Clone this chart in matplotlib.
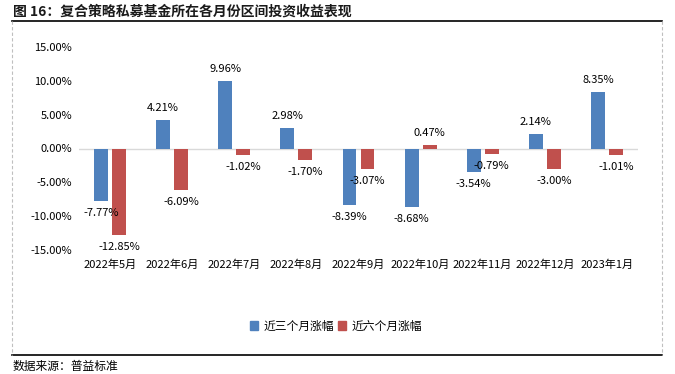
import matplotlib
matplotlib.use("Agg")
import matplotlib.pyplot as plt
from matplotlib.lines import Line2D
from matplotlib.patches import Patch
import numpy as np

plt.rcParams['font.family'] = ['Noto Sans CJK SC', 'DejaVu Sans']
plt.rcParams['axes.unicode_minus'] = False

categories = ["2022年5月", "2022年6月", "2022年7月", "2022年8月", "2022年9月",
              "2022年10月", "2022年11月", "2022年12月", "2023年1月"]
three_month = [-7.77, 4.21, 9.96, 2.98, -8.39, -8.68, -3.54, 2.14, 8.35]
six_month = [-12.85, -6.09, -1.02, -1.70, -3.07, 0.47, -0.79, -3.00, -1.01]
series_names = ["近三个月涨幅", "近六个月涨幅"]
yticks = [-15, -10, -5, 0, 5, 10, 15]

blue = "#4F81BD"
red = "#C0504D"

W, H = 675, 374
fig = plt.figure(figsize=(W / 100, H / 100), dpi=100)

ax = fig.add_axes([79 / W, 1 - 250 / H, (638 - 79) / W, (250 - 47) / H])
x = np.arange(len(categories))
bw = 0.225
off = 0.145
ax.bar(x - off, three_month, bw, color=blue, zorder=3)
ax.bar(x + off, six_month, bw, color=red, zorder=3)
ax.axhline(0, color="#D9D9D9", lw=1.0, zorder=2)
ax.set_xlim(-0.5, len(categories) - 0.5)
ax.set_ylim(-15, 15)
ax.set_yticks(yticks)
ax.set_yticklabels([f"{v:.2f}%" for v in yticks], fontsize=8)
ax.set_xticks(x)
ax.set_xticklabels(categories, fontsize=8)
ax.tick_params(axis='both', length=0)
ax.tick_params(axis='y', pad=5)
ax.tick_params(axis='x', pad=7)
for s in ax.spines.values():
    s.set_visible(False)

for xi, v in zip(x - off, three_month):
    ax.annotate(f"{v:.2f}%", (xi, v), xytext=(0, 5 if v >= 0 else -5),
                textcoords="offset points", ha="center",
                va="bottom" if v >= 0 else "top", fontsize=8)
for xi, v in zip(x + off, six_month):
    ax.annotate(f"{v:.2f}%", (xi, v), xytext=(0, 5 if v >= 0 else -5),
                textcoords="offset points", ha="center",
                va="bottom" if v >= 0 else "top", fontsize=8)

handles = [Patch(color=blue), Patch(color=red)]
fig.legend(handles, series_names, loc="center", bbox_to_anchor=(336 / W, 1 - 326 / H),
           ncol=2, frameon=False, fontsize=8.5, handlelength=0.7, handleheight=0.7,
           handletextpad=0.5, columnspacing=0.3)

# decorations
fig.add_artist(Line2D([12 / W, 662 / W], [1 - 21 / H, 1 - 21 / H], color="black", lw=1.2))
fig.add_artist(Line2D([12 / W, 662 / W], [1 - 355 / H, 1 - 355 / H], color="black", lw=1.2))
for xx in (12, 662):
    fig.add_artist(Line2D([xx / W, xx / W], [1 - 21 / H, 1 - 355 / H], color="#BFBFBF",
                          lw=0.8, ls=(0, (3, 2))))
fig.text(13 / W, 1 - 12 / H, "图 16：复合策略私募基金所在各月份区间投资收益表现",
         fontsize=10, fontweight="bold", va="center", ha="left", color="#1a1a1a")
fig.text(13 / W, 1 - 366 / H, "数据来源：普益标准", fontsize=8.5, va="center", ha="left")

fig.savefig("out.png", dpi=100)
